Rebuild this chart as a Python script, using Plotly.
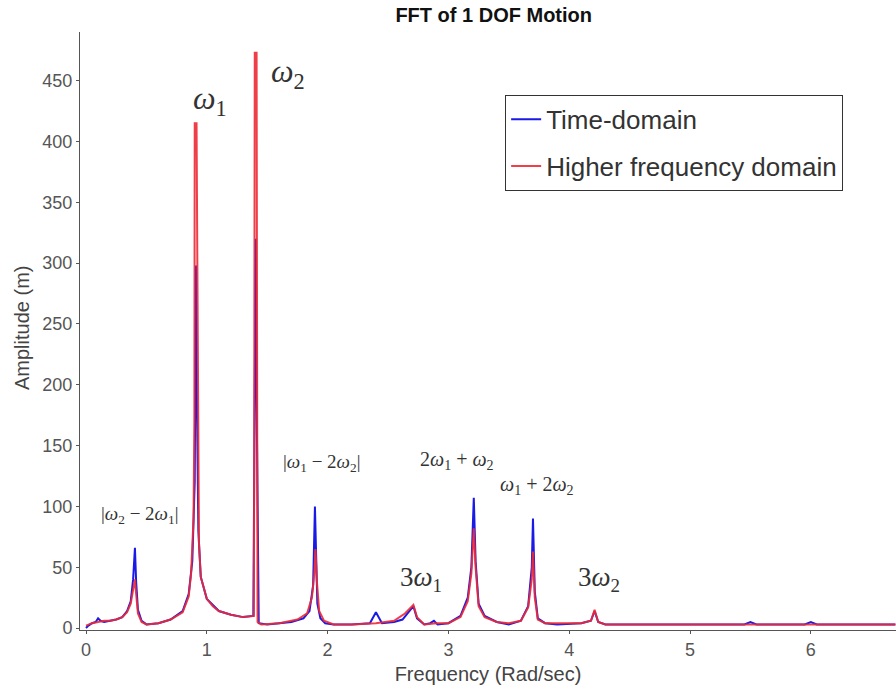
import plotly.graph_objects as go

# ---------------- data ----------------
time_freq = [0.00, 0.02, 0.05, 0.08, 0.10, 0.12, 0.15, 0.20, 0.25, 0.30, 0.34, 0.37, 0.39, 0.405,
             0.415, 0.43, 0.46, 0.50, 0.60, 0.70, 0.80, 0.85, 0.88, 0.90, 0.91, 0.92, 0.93,
             0.95, 1.00, 1.10, 1.20, 1.30, 1.385, 1.395, 1.405, 1.415, 1.43, 1.50, 1.60, 1.70,
             1.80, 1.85, 1.88, 1.895, 1.905, 1.915, 1.94, 1.98, 2.05, 2.20, 2.35, 2.40, 2.45,
             2.55, 2.62, 2.68, 2.71, 2.74, 2.80, 2.85, 2.88, 2.91, 3.00, 3.10, 3.16, 3.19,
             3.21, 3.225, 3.25, 3.30, 3.40, 3.50, 3.60, 3.66, 3.69, 3.70, 3.715, 3.74, 3.80,
             3.90, 4.10, 4.18, 4.21, 4.24, 4.30, 4.60, 5.00, 5.45, 5.50, 5.55, 5.95, 6.00,
             6.05, 6.40, 6.70]
time_amp = [0, 2, 4, 5, 8, 6, 5, 6, 7, 9, 14, 22, 40, 66,
            38, 15, 6, 3, 4, 7, 14, 28, 55, 120, 298, 170, 80,
            42, 24, 14, 11, 9, 10, 165, 320, 160, 4, 3, 4, 5,
            8, 14, 35, 100, 60, 20, 8, 4, 3, 3, 4, 13, 4,
            5, 7, 14, 18, 8, 3, 4, 6, 3, 4, 10, 25, 50,
            107, 55, 20, 10, 5, 3, 6, 18, 50, 90, 30, 8, 4,
            3, 4, 6, 14, 5, 3, 3, 3, 3, 5, 3, 3, 5,
            3, 3, 3]

hfd_freq = [0.00, 0.02, 0.05, 0.10, 0.15, 0.20, 0.25, 0.30, 0.34, 0.37, 0.39, 0.405, 0.415,
            0.43, 0.46, 0.50, 0.60, 0.70, 0.80, 0.85, 0.87, 0.89, 0.897, 0.90, 0.915, 0.925,
            0.928, 0.935, 0.95, 1.00, 1.05, 1.10, 1.20, 1.30, 1.39, 1.393, 1.397, 1.412, 1.415,
            1.42, 1.45, 1.60, 1.75, 1.83, 1.87, 1.89, 1.90, 1.91, 1.93, 1.97, 2.05, 2.20,
            2.40, 2.55, 2.64, 2.69, 2.71, 2.74, 2.80, 2.90, 3.00, 3.10, 3.16, 3.19, 3.21,
            3.225, 3.25, 3.30, 3.40, 3.50, 3.60, 3.66, 3.69, 3.70, 3.715, 3.74, 3.80, 3.90,
            4.10, 4.18, 4.21, 4.24, 4.30, 5.00, 5.50, 6.00, 6.70]
hfd_amp = [2, 3, 4, 5, 6, 6, 7, 9, 13, 20, 30, 40, 28,
           12, 5, 3, 4, 7, 13, 26, 45, 90, 170, 415, 415, 170,
           95, 70, 42, 24, 18, 14, 11, 9, 10, 165, 473, 473, 165,
           5, 3, 4, 7, 12, 25, 45, 65, 40, 14, 6, 3, 3,
           4, 6, 12, 17, 19, 9, 3, 4, 4, 9, 22, 45,
           82, 50, 18, 9, 5, 4, 6, 17, 40, 63, 25, 7, 4, 4,
           4, 6, 15, 5, 3, 3, 3, 3, 3]

series_names = ["Time-domain", "Higher frequency domain"]
series_colors = ["#1a1ae6", "#ee2a35"]

x_ticks = [0, 1, 2, 3, 4, 5, 6]
y_ticks = [0, 50, 100, 150, 200, 250, 300, 350, 400, 450]

# peak labels: (text, x, y, size)
peak_labels = [
    ("<i>ω</i><sub>1</sub>", 1.03, 434, 32),
    ("<i>ω</i><sub>2</sub>", 1.67, 456, 32),
    ("|<i>ω</i><sub>2</sub> − 2<i>ω</i><sub>1</sub>|", 0.45, 93, 19),
    ("|<i>ω</i><sub>1</sub> − 2<i>ω</i><sub>2</sub>|", 1.95, 136, 19),
    ("2<i>ω</i><sub>1</sub> + <i>ω</i><sub>2</sub>", 3.07, 138, 20),
    ("<i>ω</i><sub>1</sub> + 2<i>ω</i><sub>2</sub>", 3.73, 117, 20),
    ("3<i>ω</i><sub>1</sub>", 2.77, 40, 27),
    ("3<i>ω</i><sub>2</sub>", 4.25, 40, 27),
]

# ---------------- figure ----------------
fig = go.Figure()
fig.add_trace(go.Scatter(x=time_freq, y=time_amp, mode="lines", name=series_names[0],
                         legendgroup="a",
                         line=dict(color=series_colors[0], width=2)))
fig.add_trace(go.Scatter(x=hfd_freq, y=hfd_amp, mode="lines", name=series_names[1],
                         legendgroup="b",
                         line=dict(color=series_colors[1], width=2), opacity=0.9))

for txt, xv, yv, sz in peak_labels:
    fig.add_annotation(x=xv, y=yv, xref="x", yref="y", text=txt, showarrow=False,
                       font=dict(family="Liberation Serif, DejaVu Serif, serif", size=sz, color="#333333"))

tick_font = dict(family="Liberation Sans, Arial, sans-serif", size=18, color="#555555")
title_font = dict(family="Liberation Sans, Arial, sans-serif", size=20, color="#444444")

# y-axis title placed as rotated text left of the tick labels
fig.add_annotation(x=22, y=0.5, xref="x domain", yref="paper", text="Amplitude (m)",
                   showarrow=False, textangle=-90, font=title_font)
fig.layout.annotations[-1].update(xref="paper", x=(22 - 80) / 816, xanchor="center",
                                  y=(630 - 328) / 598, yanchor="middle")

fig.update_layout(
    width=896, height=691,
    margin=dict(l=80, r=0, t=32, b=61),
    paper_bgcolor="white", plot_bgcolor="white",
    title=dict(text="<b>FFT of 1 DOF Motion</b>", x=0.551, xanchor="center",
               y=1 - 15 / 691, yanchor="middle",
               font=dict(family="Liberation Sans, Arial, sans-serif", size=20, color="#111111")),
    showlegend=True,
    legend=dict(x=0.521, y=0.895, xanchor="left", yanchor="top",
                bgcolor="white", bordercolor="#333333", borderwidth=1,
                font=dict(family="Liberation Sans Narrow, Arial Narrow, Liberation Sans, sans-serif",
                          size=26, color="#333333"),
                traceorder="grouped", tracegroupgap=10),
    xaxis=dict(range=[-0.0497, 6.705], tickvals=x_ticks, ticks="outside", ticklen=3,
               tickcolor="#555555", showline=True, linecolor="#555555", linewidth=1,
               showgrid=False, zeroline=False, tickfont=tick_font,
               title=dict(text="Frequency (Rad/sec)", font=title_font, standoff=8)),
    yaxis=dict(range=[-1.6, 490], tickvals=y_ticks, ticks="outside", ticklen=3,
               tickcolor="#555555", showline=True, linecolor="#555555", linewidth=1,
               showgrid=False, zeroline=False, tickfont=tick_font),
)

fig.write_html("out.html")
